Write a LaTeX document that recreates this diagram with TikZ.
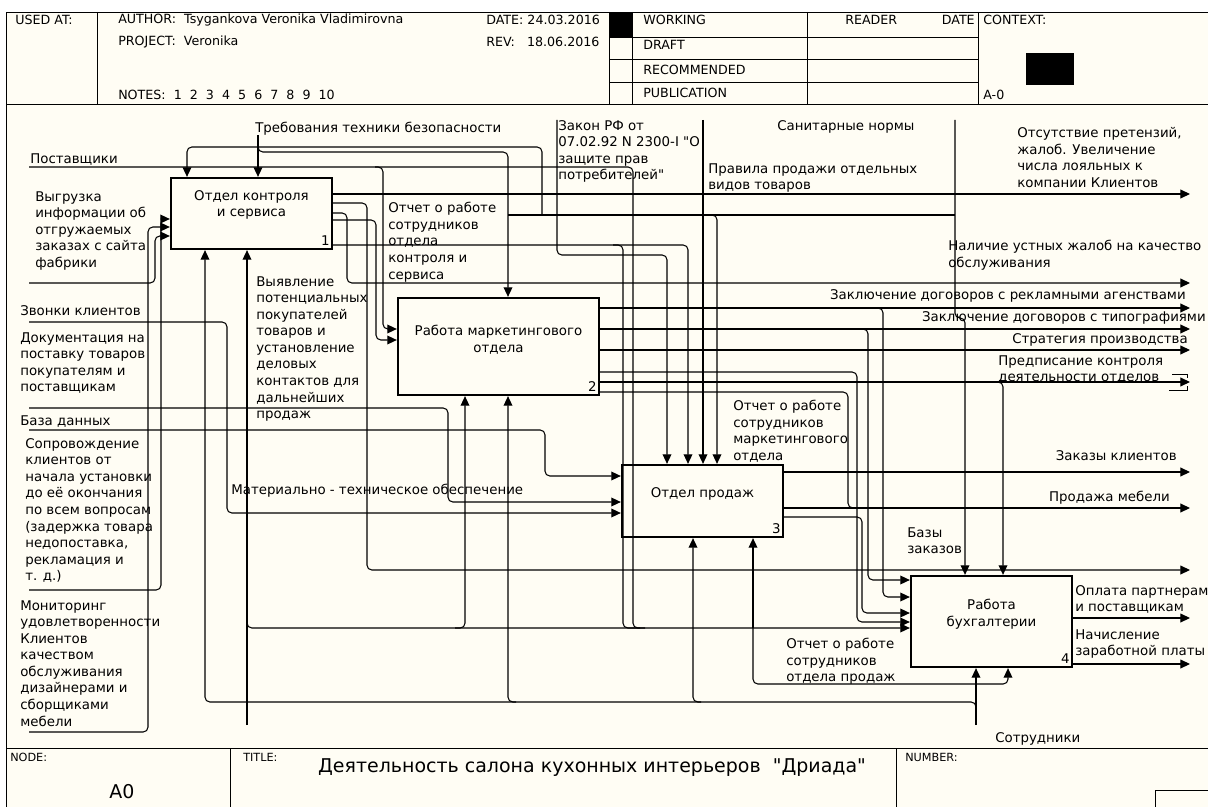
\documentclass[tikz,border=0pt]{standalone}
\usepackage{fontspec}
\setmainfont{DejaVu Sans}[Ligatures=TeXOff]
\usetikzlibrary{arrows.meta}

\definecolor{paper}{RGB}{255,253,244}
\newcommand\lblfont{\fontsize{9.5}{11.8}\selectfont}
\newcommand\hdrfont{\fontsize{9}{11}\selectfont}
\newcommand\ftrfont{\fontsize{8}{10}\selectfont}
\newcommand\ttlfont{\fontsize{13.5}{16}\selectfont}

\begin{document}
\begin{tikzpicture}[
    x=0.025cm, y=-0.025cm,
    frameline/.style={black, line width=0.6pt},
    funcbox/.style={draw, line width=1.6pt, inner sep=0pt},
    flow/.style={black, line width=0.75pt, rounded corners=1.2mm},
    arrow/.style={flow, -{Triangle[length=2.4mm, width=2.2mm]}},
    lbl/.style={font=\lblfont, align=left, inner sep=0pt, anchor=north west},
    rlbl/.style={lbl, anchor=north east, align=right},
    hdr/.style={font=\hdrfont, inner sep=0pt, anchor=west},
    ftr/.style={font=\ftrfont, inner sep=0pt, anchor=west},
    boxtxt/.style={font=\lblfont, align=center, inner sep=0pt, anchor=north},
    boxnum/.style={font=\lblfont, inner sep=0pt, anchor=south east},
]

\def\ax{1190}  % x of the right-hand arrow tips
\def\lx{29}    % x where the left-hand inputs start

% ── Sheet ───────────────────────────────────────────────────
\useasboundingbox[fill=white] (0,0) rectangle (1208,807);
\fill[paper] (6,12) rectangle (1208,807);
\draw[frameline] (1212,12) -- (6,12) -- (6,812);
\draw[frameline] (6,104) -- (1212,104);
\draw[frameline] (6,748) -- (1212,748);

% Header grid
\foreach \x in {97,609,632,807,978} {
    \draw[frameline] (\x,12) -- (\x,104);
}
\foreach \y in {37,59,82} {
    \draw[frameline] (609,\y) -- (978,\y);
}
\fill (609,12) rectangle (632,37);
\fill (1026,53) rectangle (1074,85);

% Footer grid
\foreach \x in {230,896} {
    \draw[frameline] (\x,748) -- (\x,812);
}
\draw[frameline] (1155,812) |- (1212,790);

% ── Header texts ────────────────────────────────────────────
\node[hdr] (h-used)    at (15,20)  {USED AT:};
\node[hdr] (h-author)  at (118,20) {AUTHOR:\ \ Tsygankova Veronika Vladimirovna};
\node[hdr] (h-project) at (118,42) {PROJECT:\ \ Veronika};
\node[hdr] (h-notes)   at (118,95) {NOTES:\ \ 1\ \ 2\ \ 3\ \ 4\ \ 5\ \ 6\ \ 7\ \ 8\ \ 9\ \ 10};
\node[hdr] (h-date)    at (486,20) {DATE: 24.03.2016};
\node[hdr] (h-rev)     at (486,42) {REV:\ \ \ 18.06.2016};
\node[hdr] (h-work)    at (643,20) {WORKING};
\node[hdr] (h-draft)   at (643,45) {DRAFT};
\node[hdr] (h-recom)   at (643,70) {RECOMMENDED};
\node[hdr] (h-publ)    at (643,93) {PUBLICATION};
\node[hdr] (h-reader)  at (845,20) {READER};
\node[hdr, anchor=east] (h-rdate) at (975,20) {DATE};
\node[hdr] (h-context) at (983,20) {CONTEXT:};
\node[hdr] (h-ctxnum)  at (983,95) {A-0};

% ── Footer texts ────────────────────────────────────────────
\node[ftr] (f-node)   at (10,757)  {NODE:};
\node[ftr] (f-title)  at (243,757) {TITLE:};
\node[ftr] (f-number) at (905,757) {NUMBER:};
\node[font=\ttlfont, inner sep=0pt] (f-name) at (592,768)
    {Деятельность салона кухонных интерьеров\ \ "Дриада"};
\node[font=\ttlfont, inner sep=0pt] (f-a0) at (122,792) {A0};

% ── Function boxes ──────────────────────────────────────────
\node[funcbox, minimum width=4.025cm, minimum height=1.775cm] (b1) at (251.5,213.5) {};
\node[funcbox, minimum width=5.025cm, minimum height=2.425cm] (b2) at (498.5,346.5) {};
\node[funcbox, minimum width=4.025cm, minimum height=1.8cm]   (b3) at (702.5,501) {};
\node[funcbox, minimum width=4.025cm, minimum height=2.275cm] (b4) at (991.5,621.5) {};

\node[boxtxt] (t1) at (251.5,190) {Отдел контроля\\и сервиса};
\node[boxtxt] (t2) at (498.5,325) {Работа маркетингового\\отдела};
\node[boxtxt] (t3) at (702.5,487) {Отдел продаж};
\node[boxtxt] (t4) at (991.5,599) {Работа\\бухгалтерии};

\node[boxnum] (n1) at (330,246)  {1};
\node[boxnum] (n2) at (597,392)  {2};
\node[boxnum] (n3) at (781,534)  {3};
\node[boxnum] (n4) at (1070,664) {4};

% ── Controls from the top ───────────────────────────────────
\draw[arrow] (258,135) -- (258,0 |- b1.north);
\draw[arrow] (542,215) -- (542,147) -- (187,147) -- (187,0 |- b1.north);
\draw[arrow] (258,145) -- (258,152) -- (508,152) -- (508,0 |- b2.north);
\draw[flow]  (508,215) -- (955,215);
\draw[arrow] (709,215) -- (717,215) -- (717,0 |- b3.north);
\draw[arrow] (557,120) -- (557,255) -- (667,255) -- (667,0 |- b3.north);
\draw[arrow] (703,120) -- (703,0 |- b3.north);
\draw[arrow] (955,120) -- (955,318) -- (965,318) -- (965,0 |- b4.north);
\draw[arrow] (993,382) -- (1003,382) -- (1003,0 |- b4.north);

% ── Inputs from the left ────────────────────────────────────
\draw[arrow] (\lx,167) -- (383,167) -- (383,329) -- (b2.west |- 0,329);
\draw[flow]  (375,167) -- (633,167) -- (633,628) -- (645,628);
\draw[arrow] (\lx,283) -- (155,283) -- (155,236) -- (b1.west |- 0,236);
\draw[arrow] (\lx,590) -- (161,590) -- (161,219) -- (b1.west |- 0,219);
\draw[arrow] (\lx,732) -- (148,732) -- (148,227) -- (b1.west |- 0,227);
\draw[arrow] (\lx,322) -- (227,322) -- (227,513) -- (b3.west |- 0,513);
\draw[arrow] (\lx,408) -- (448,408) -- (448,502) -- (b3.west |- 0,502);
\draw[arrow] (\lx,430) -- (545,430) -- (545,476) -- (b3.west |- 0,476);

% ── Outputs of box 1 ────────────────────────────────────────
\draw[arrow] (b1.east |- 0,194) -- (\ax,194);
\draw[arrow] (b1.east |- 0,203) -- (367,203) -- (367,570) -- (\ax,570);
\draw[arrow] (b1.east |- 0,213) -- (347,213) -- (347,283) -- (\ax,283);
\draw[arrow] (b1.east |- 0,220) -- (376,220) -- (376,340) -- (b2.west |- 0,340);
\draw[arrow] (b1.east |- 0,245) -- (688,245) -- (688,0 |- b3.north);
\draw[flow]  (613,245) -- (623,245) -- (623,628) -- (640,628);

% ── Outputs of box 2 ────────────────────────────────────────
\foreach \y in {308,329,350,382} {
    \draw[arrow] (b2.east |- 0,\y) -- (\ax,\y);
}
\draw[arrow] (875,308) -- (883,308) -- (883,597) -- (b4.west |- 0,597);
\draw[arrow] (860,329) -- (868,329) -- (868,580) -- (b4.west |- 0,580);
\draw[arrow] (b2.east |- 0,372) -- (857,372) -- (857,622) -- (b4.west |- 0,622);
\draw[flow]  (b2.east |- 0,392) -- (848,392) -- (848,508) -- (860,508);

% Tunnel brackets round the tip
\draw[frameline] (1172,374) -- (1187,374) -- (1187,378);
\draw[frameline] (1169,390) -- (1187,390) -- (1187,386);

% ── Outputs of box 3 ────────────────────────────────────────
\foreach \y in {472,508} {
    \draw[arrow] (b3.east |- 0,\y) -- (\ax,\y);
}
\draw[arrow] (b3.east |- 0,517) -- (862,517) -- (862,613) -- (b4.west |- 0,613);

% ── Outputs of box 4 ────────────────────────────────────────
\foreach \y in {618,664} {
    \draw[arrow] (b4.east |- 0,\y) -- (\ax,\y);
}

% ── Mechanisms from the bottom ──────────────────────────────
\draw[arrow] (247,725) -- (247,0 |- b1.south);
\draw[arrow] (247,622) -- (247,628) -- (b4.west |- 0,628);
\draw[arrow] (455,628) -- (465,628) -- (465,0 |- b2.south);
\draw[arrow] (753,628) -- (753,0 |- b3.south);
\draw[arrow] (753,628) -- (753,684) -- (1008,684) -- (1008,0 |- b4.south);
\draw[arrow] (976,725) -- (976,0 |- b4.south);
\draw[arrow] (976,708) -- (976,702) -- (205,702) -- (205,0 |- b1.south);
\draw[arrow] (516,702) -- (508,702) -- (508,0 |- b2.south);
\draw[arrow] (701,702) -- (693,702) -- (693,0 |- b3.south);

% ── Arrow labels ────────────────────────────────────────────
% top
\node[lbl] (l-safety) at (255,122) {Требования техники безопасности};
\node[lbl] (l-law)    at (558,120) {Закон РФ от\\07.02.92 N 2300-I "О\\защите прав\\потребителей"};
\node[lbl] (l-sanit)  at (777,120) {Санитарные нормы};
\node[lbl] (l-rules)  at (708,163) {Правила продажи отдельных\\видов товаров};

% left
\node[lbl] (l-suppl)  at (30,153)  {Поставщики};
\node[lbl] (l-upload) at (35,191)  {Выгрузка\\информации об\\отгружаемых\\заказах с сайта\\фабрики};
\node[lbl] (l-calls)  at (20,305)  {Звонки клиентов};
\node[lbl] (l-docs)   at (20,332)  {Документация на\\поставку товаров\\покупателям и\\поставщикам};
\node[lbl] (l-base)   at (20,415)  {База данных};
\node[lbl] (l-escort) at (25,438)  {Сопровождение\\клиентов от\\начала установки\\до её окончания\\по всем вопросам\\(задержка товара\\недопоставка,\\рекламация и\\т. д.)};
\node[lbl] (l-monit)  at (20,600)  {Мониторинг\\удовлетворенности\\Клиентов\\качеством\\обслуживания\\дизайнерами и\\сборщиками\\мебели};

% middle
\node[lbl] (l-rep1)   at (388,202) {Отчет о работе\\сотрудников\\отдела\\контроля и\\сервиса};
\node[lbl] (l-search) at (256,276) {Выявление\\потенциальных\\покупателей\\товаров и\\установление\\деловых\\контактов для\\дальнейших\\продаж};
\node[lbl] (l-rep2)   at (733,400) {Отчет о работе\\сотрудников\\маркетингового\\отдела};
\node[lbl] (l-matsup) at (231,484) {Материально - техническое обеспечение};
\node[lbl] (l-ordb)   at (907,527) {Базы\\заказов};
\node[lbl] (l-rep3)   at (786,638) {Отчет о работе\\сотрудников\\отдела продаж};
\node[lbl] (l-staff)  at (995,732) {Сотрудники};

% right
\node[lbl]  (l-noclaim) at (1017,127) {Отсутствие претензий,\\жалоб. Увеличение\\числа лояльных к\\компании Клиентов};
\node[lbl]  (l-oral)    at (948,240)  {Наличие устных жалоб на качество\\обслуживания};
\node[rlbl] (l-adv)     at (1186,289) {Заключение договоров с рекламными агенствами};
\node[rlbl] (l-print)   at (1206,311) {Заключение договоров с типографиями};
\node[rlbl] (l-strat)   at (1188,333) {Стратегия производства};
\node[lbl]  (l-order)   at (998,355)  {Предписание контроля\\деятельности отделов};
\node[rlbl] (l-orders)  at (1177,450) {Заказы клиентов};
\node[rlbl] (l-sale)    at (1170,491) {Продажа мебели};
\node[lbl]  (l-pay)     at (1075,585) {Оплата партнерам\\и поставщикам};
\node[lbl]  (l-salary)  at (1075,629) {Начисление\\заработной платы};

\end{tikzpicture}
\end{document}
